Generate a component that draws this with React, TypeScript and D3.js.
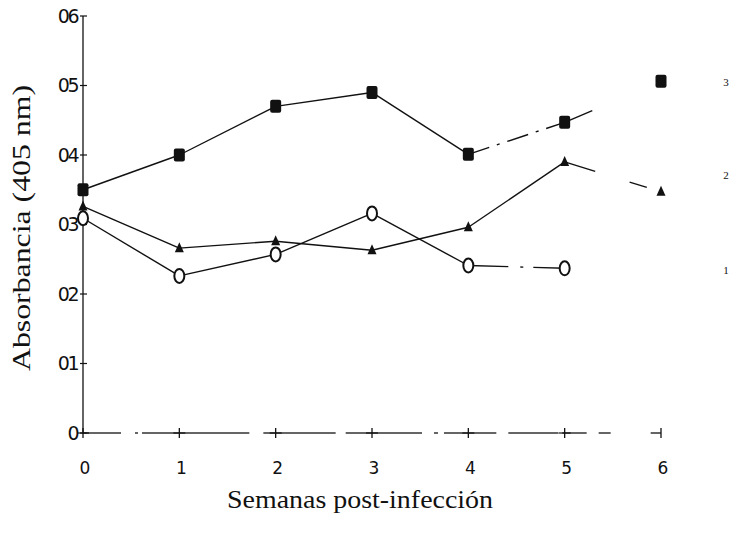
import React from "react";
import * as d3 from "d3";

const weeks = [0, 1, 2, 3, 4, 5, 6];
const yTicks = [0, 0.1, 0.2, 0.3, 0.4, 0.5, 0.6];
const yTickLabels = ["0", "01", "02", "03", "04", "05", "06"];
const serie3 = [0.35, 0.4, 0.47, 0.49, 0.401, 0.447, 0.506];
const serie2 = [0.326, 0.266, 0.276, 0.263, 0.296, 0.39, 0.347];
const serie1 = [0.309, 0.226, 0.257, 0.316, 0.241, 0.237];
const serie0 = [0, 0, 0, 0, 0, 0, 0];
const seriesLabels = ["3", "2", "1"];
const xTitle = "Semanas post-infección";
const yTitle = "Absorbancia (405 nm)";

const W = 732;
const H = 534;

export default function App() {
  const x = d3.scaleLinear().domain([0, 6]).range([83, 661]);
  const y = d3.scaleLinear().domain([0, 0.6]).range([433, 16]);

  const seg = (vals: number[], i: number, dash?: string, key?: string, color = "#111", sw = 1.4) => (
    <line
      key={key}
      x1={x(weeks[i])}
      y1={y(vals[i])}
      x2={x(weeks[i + 1])}
      y2={y(vals[i + 1])}
      stroke={color}
      strokeWidth={sw}
      strokeDasharray={dash}
    />
  );

  const faded = "22,8,3,8";
  const serie3Dash = [undefined, undefined, undefined, undefined, faded, "30,80"];
  const serie2Dash = [undefined, undefined, undefined, undefined, undefined, "32,36,18,100"];
  const serie1Dash = [undefined, undefined, undefined, undefined, "40,12,3,10"];
  const baseDash = ["38,14,3,4,45", "70,14,20", "60,10,30", "50,12,4,6,30", "28,12,50,4", "22,12,12,40"];

  return (
    <svg
      width={W}
      height={H}
      style={{ position: "absolute", left: 0, top: 0, background: "#fff" }}
      fontFamily="'Liberation Serif', 'Times New Roman', serif"
    >
      <rect width={W} height={H} fill="#fff" />
      {/* y axis */}
      <line x1={x(0)} y1={y(0.6)} x2={x(0)} y2={y(0)} stroke="#111" strokeWidth={1.3} />
      {yTicks.map((t, i) => (
        <g key={"yt" + i}>
          <line x1={x(0) - 3} x2={x(0) + 4} y1={y(t)} y2={y(t)} stroke="#111" strokeWidth={1.2} />
          <text
            x={x(0) - 6}
            y={y(t)}
            dy="0.36em"
            textAnchor="end"
            fontFamily="'DejaVu Sans', sans-serif"
            fontSize={19}
            letterSpacing={-2.5}
            fill="#111"
          >
            {yTickLabels[i]}
          </text>
        </g>
      ))}
      {/* x axis / zero series */}
      {weeks.slice(0, 6).map((w, i) => seg(serie0, i, baseDash[i], "s0" + i, "#333", 1.3))}
      {weeks.map((w, i) => (
        <g key={"xt" + i}>
          <line
            x1={x(w)}
            x2={x(w)}
            y1={y(0) - 5}
            y2={y(0) + 5}
            stroke="#111"
            strokeWidth={1.3}
          />
          {i < 6 && (
            <line x1={x(w) - 6} x2={x(w) + 6} y1={y(0)} y2={y(0)} stroke="#111" strokeWidth={1.2} />
          )}
          <text
            x={x(w) + 2}
            y={474}
            textAnchor="middle"
            fontFamily="'DejaVu Sans', sans-serif"
            fontSize={17}
            fill="#111"
          >
            {w}
          </text>
        </g>
      ))}
      {/* series lines */}
      {serie3.slice(0, -1).map((_, i) => seg(serie3, i, serie3Dash[i], "l3" + i))}
      {serie2.slice(0, -1).map((_, i) => seg(serie2, i, serie2Dash[i], "l2" + i))}
      {serie1.slice(0, -1).map((_, i) => seg(serie1, i, serie1Dash[i], "l1" + i))}
      {/* markers */}
      {serie3.map((v, i) => (
        <rect
          key={"m3" + i}
          x={x(weeks[i]) - 5.5}
          y={y(v) - 6.5}
          width={11}
          height={13}
          rx={2}
          fill="#111"
        />
      ))}
      {serie2.map((v, i) => {
        const cx = x(weeks[i]);
        const cy = y(v);
        return (
          <path
            key={"m2" + i}
            d={`M${cx},${cy - 6} L${cx + 4.5},${cy + 4} L${cx - 4.5},${cy + 4} Z`}
            fill="#111"
          />
        );
      })}
      {serie1.map((v, i) => (
        <ellipse
          key={"m1" + i}
          cx={x(weeks[i])}
          cy={y(v)}
          rx={5}
          ry={7}
          fill="#fff"
          stroke="#111"
          strokeWidth={2}
        />
      ))}
      {/* series labels */}
      {[serie3[6], serie2[6], serie1[5]].map((v, i) => (
        <text
          key={"sl" + i}
          x={726}
          y={[82, 175, 270][i]}
          dy="0.35em"
          textAnchor="middle"
          fontSize={11}
          fill="#111"
        >
          {seriesLabels[i]}
        </text>
      ))}
      {/* titles */}
      <text
        x={360}
        y={508}
        textAnchor="middle"
        fontSize={25}
        textLength={266}
        lengthAdjust="spacingAndGlyphs"
        fill="#111"
      >
        {xTitle}
      </text>
      <text
        transform={`translate(30,${228}) rotate(-90)`}
        textAnchor="middle"
        fontSize={26}
        textLength={286}
        lengthAdjust="spacingAndGlyphs"
        fill="#111"
      >
        {yTitle}
      </text>
    </svg>
  );
}
